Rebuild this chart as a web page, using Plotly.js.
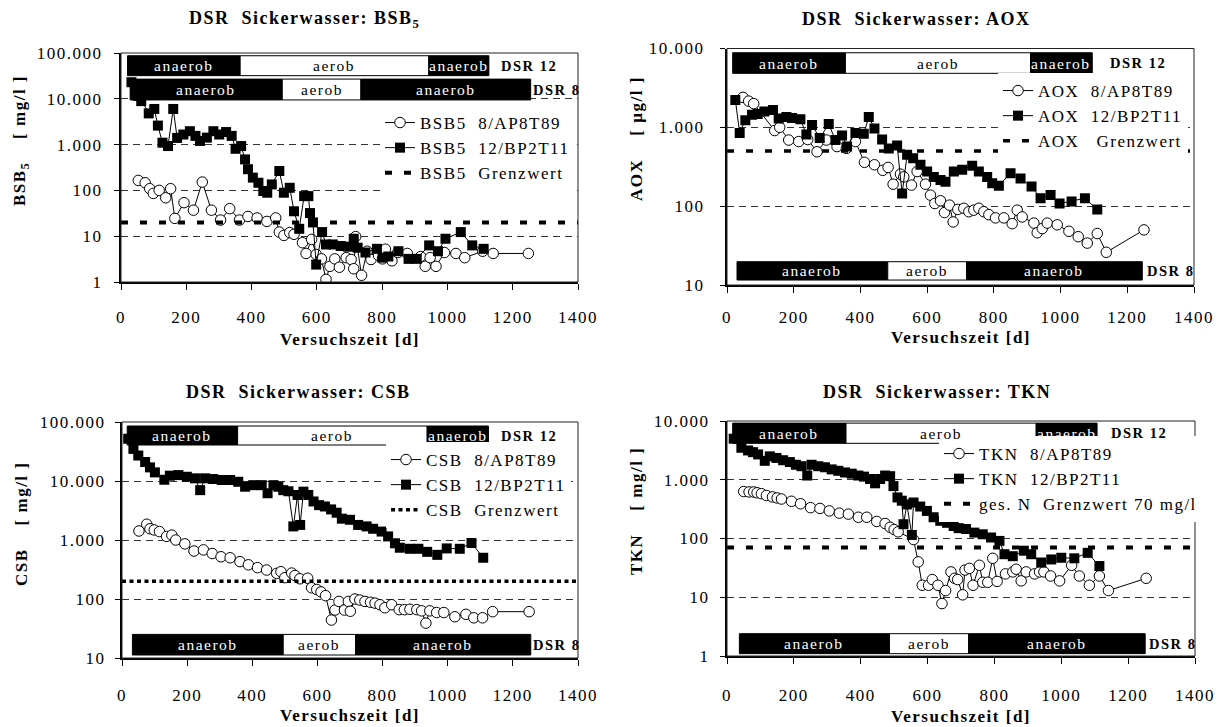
<!DOCTYPE html>
<html><head><meta charset="utf-8">
<script src="https://cdn.plot.ly/plotly-3.0.1.min.js"></script>
<style>
html,body{margin:0;padding:0;background:#fff;}
#chart{width:1223px;height:727px;}
svg text{letter-spacing:1.5px;}
</style></head><body><div id="chart"></div>
<script>
// ---------------- DATA ----------------
const xTickVals = [0, 200, 400, 600, 800, 1000, 1200, 1400];
const xTickText = ['0', '200', '400', '600', '800', '1000', '1200', '1400'];
const yTickVals = [1, 10, 100, 1000, 10000, 100000];
const yTickText = ['1', '10', '100', '1.000', '10.000', '100.000'];
const phaseNames = ['anaerob', 'aerob', 'anaerob'];

// BSB5 [mg/l]
const bsbDay8 = [53,74,88,99,117,137,152,165,193,222,249,277,305,333,363,389,417,447,474,485,499,517,530,556,567,584,598,614,628,640,655,669,690,705,713,719,737,754,766,789,801,810,830,848,877,918,932,947,965,991,1026,1053,1108,1140,1248];
const bsbVal8 = [165,147,109,86,100,69,109,24.5,54,37,152,37,22.5,40,22.5,27,25,21,25,12.3,10.4,12,11,7.2,4.2,8.5,4.0,3.2,1.14,2.2,3.2,2.1,3.4,3.1,1.95,9.8,1.4,4.7,3.1,3.8,3.2,5.2,2.9,4.4,4.2,3.6,2.2,3.4,2.2,4.4,4.2,3.4,4.7,4.2,4.2];
const bsbDay12 = [32,43,53,62,85,102,113,127,144,160,172,191,211,228,242,263,283,301,322,339,351,368,380,389,404,421,436,448,462,485,499,517,530,546,561,574,579,588,598,616,628,649,673,696,713,725,749,784,801,819,850,881,906,944,971,994,1041,1076,1111];
const bsbVal12 = [23000,16600,11500,8900,4800,6000,2600,1100,930,6000,1400,1660,1960,1550,1200,1420,1960,1660,1880,1550,810,930,475,290,190,147,97,89,135,265,89,114,35,14.5,75,75,32,20,2.4,12.3,6.6,6.6,6.1,5.9,8.8,5.6,4.4,5.3,3.4,3.6,4.7,3.2,3.2,6.3,4.7,8.8,12.3,6.3,5.3];
const bsbLimit = 20;
const bsbPhase12 = [20, 365, 943, 1127];
const bsbPhase8 = [28, 494, 735, 1255];

// AOX [µg/l]
const aoxDay8 = [48,65,80,143,158,185,215,242,270,298,330,358,385,412,442,467,483,498,520,530,553,570,595,610,623,640,652,667,678,692,710,725,740,755,770,785,805,830,855,870,885,920,930,945,960,990,1025,1053,1080,1110,1137,1250];
const aoxVal8 = [2400,2150,2000,910,1000,690,660,700,490,690,570,540,660,360,335,285,310,190,255,235,185,275,190,138,108,117,83,103,63,91,94,85,89,94,85,78,71,71,60,89,73,61,46,52,61,58,48,41,34,45,26,50];
const aoxDay12 = [25,38,55,75,92,112,138,155,178,195,220,238,255,278,305,325,345,360,385,410,425,442,465,485,510,525,540,558,580,600,620,640,655,680,705,735,755,780,795,815,850,880,913,940,970,997,1033,1073,1110];
const aoxVal12 = [2230,850,1230,1440,1480,1590,1660,1290,1350,1310,1270,810,1070,730,1100,690,790,570,850,830,1350,970,700,540,590,145,450,405,335,275,235,214,204,275,290,325,275,235,195,182,262,225,177,126,139,108,115,126,91];
const aoxLimit = 500;
const aoxPhase12 = [17, 355, 910, 1095];
const aoxPhase8 = [30, 482, 718, 1245];

// CSB [mg/l]
const csbDay8 = [52,76,86,99,115,137,153,165,193,221,250,277,304,332,362,388,416,444,475,488,500,521,531,546,570,582,598,611,625,643,654,666,683,695,701,715,730,746,763,777,792,807,828,851,867,884,905,920,933,945,966,988,1022,1056,1080,1107,1138,1250];
const csbVal8 = [1420,1850,1550,1480,1390,1150,1210,1000,860,650,680,590,520,500,430,380,340,310,272,290,230,275,250,220,225,155,145,132,114,44,65,91,65,91,62,100,96,91,88,85,80,71,80,66,66,67,66,63,39,63,59,59,50,55,48,48,61,61];
const csbDay12 = [19,35,50,71,86,101,130,147,173,199,224,240,255,280,306,332,357,378,403,429,447,465,480,495,511,526,539,547,557,572,588,605,623,642,659,675,700,725,751,771,797,817,838,853,884,910,937,968,997,1037,1073,1109];
const csbVal12 = [52000,35000,27000,21000,17000,14000,10500,12300,12600,11800,11100,7000,11100,10800,10400,10400,9700,8000,8500,8500,6200,8500,8000,7000,6700,1700,5800,1800,6600,5800,4500,3900,3700,3300,2900,2300,2200,1800,1700,1550,1390,1150,880,740,710,710,630,560,720,710,890,500];
const csbLimit = 200;
const csbPhase12 = [16, 355, 937, 1125];
const csbPhase8 = [32, 495, 717, 1255];

// TKN [mg/l]
const tknDay8 = [50,66,80,90,103,118,136,150,163,193,220,250,278,306,336,363,393,418,448,473,488,500,512,558,572,584,603,614,631,643,654,670,681,690,705,712,725,736,755,765,780,795,808,833,855,865,880,895,920,935,948,968,995,1031,1054,1084,1114,1141,1254];
const tknVal8 = [630,620,620,600,580,540,510,490,470,430,390,335,325,295,270,260,230,230,195,180,155,142,130,96,40,16,16,20,16,7.8,13,27,21,20,11,29,31,16,35,18,18,46,18.6,25,27,30,19,27,25,27,27,23,19,35,23,16,23,13,21];
const tknDay12 = [20,43,63,78,93,113,128,148,168,188,206,223,240,253,273,293,313,333,353,373,393,410,428,443,458,473,488,498,510,523,528,538,553,558,578,598,618,638,658,678,693,715,740,765,790,815,830,855,888,910,940,970,1000,1039,1079,1114];
const tknVal12 = [5000,3500,3150,2950,2700,2100,2500,2350,2150,2000,1800,1700,1180,1800,1700,1630,1500,1420,1330,1270,1180,1130,1030,870,1030,1180,1150,780,500,440,175,380,115,410,350,295,230,200,185,163,150,145,126,118,104,91,54,50,62,54,39,44,47,46,57,34];
const tknLimit = 70;
const tknPhase12 = [17, 356, 925, 1107];
const tknPhase8 = [37, 486, 723, 1251];

const xRange = [0, 1400];

// ---------------- LAYOUT HELPERS ----------------
const W = 1223, H = 727;
const FONT = 'Liberation Serif, Times New Roman, serif';
const px = v => v / W;
const py = v => 1 - v / H;

const traces = [];
const shapes = [];
const annotations = [];

function addPanel(cfg) {
  const xa = cfg.xa, ya = cfg.ya;
  traces.push({
    type: 'scatter', mode: 'lines+markers', x: cfg.d8, y: cfg.v8, name: cfg.n8,
    xaxis: xa, yaxis: ya, legend: cfg.leg,
    marker: {symbol: 'circle', size: 10.5, color: '#ffffff', line: {color: '#000', width: 1}},
    line: {color: '#000', width: 1}
  });
  traces.push({
    type: 'scatter', mode: 'lines+markers', x: cfg.d12, y: cfg.v12, name: cfg.n12,
    xaxis: xa, yaxis: ya, legend: cfg.leg,
    marker: {symbol: 'square', size: 10, color: '#000', line: {color: '#000', width: 0}},
    line: {color: '#000', width: 1}
  });
  traces.push({
    type: 'scatter', mode: 'lines', x: xRange, y: [cfg.lim, cfg.lim], name: cfg.nl,
    xaxis: xa, yaxis: ya, legend: cfg.leg,
    line: {color: '#000', width: cfg.limW, dash: cfg.limDash}
  });
  const yr = ya + ' domain';
  const xr = xa + ' domain';
  shapes.push({type: 'rect', xref: xr, yref: yr, x0: 0, x1: 1, y0: 0, y1: 1,
    line: {color: '#222', width: 1}, fillcolor: 'rgba(0,0,0,0)', layer: 'above'});
  function bar(bounds, y0, y1, tag, dx) {
    for (let i = 0; i < 3; i++) {
      const dark = phaseNames[i] === 'anaerob';
      shapes.push({type: 'rect', xref: xa, yref: yr, x0: bounds[i], x1: bounds[i + 1], y0: y0, y1: y1,
        fillcolor: dark ? '#000' : '#fff', line: {color: '#000', width: 1}, layer: 'above'});
      annotations.push({xref: xa, yref: yr, x: (bounds[i] + bounds[i + 1]) / 2, y: (y0 + y1) / 2,
        text: phaseNames[i], showarrow: false, xanchor: 'center', yanchor: 'middle',
        font: {family: FONT, size: 15.5, color: dark ? '#fff' : '#000'}});
    }
    annotations.push({xref: xa, yref: yr, x: bounds[3] + dx, y: (y0 + y1) / 2, text: '<b>' + tag + '</b>',
      showarrow: false, xanchor: 'left', yanchor: 'middle',
      font: {family: FONT, size: 14.5, color: '#000'}});
  }
  bar(cfg.p12, cfg.b12[0], cfg.b12[1], 'DSR 12', cfg.dx12);
  bar(cfg.p8, cfg.b8[0], cfg.b8[1], 'DSR 8', cfg.dx8);
}

const NB = '\u00a0';
addPanel({xa: 'x', ya: 'y', leg: 'legend', d8: bsbDay8, v8: bsbVal8, d12: bsbDay12, v12: bsbVal12, lim: bsbLimit,
  n8: 'BSB5' + NB + ' 8/AP8T89', n12: 'BSB5' + NB + ' 12/BP2T11', nl: 'BSB5' + NB + ' Grenzwert',
  limW: 4, limDash: '7px,12px',
  p12: bsbPhase12, p8: bsbPhase8, b12: [0.901, 0.988], b8: [0.795, 0.886], dx12: 31, dx8: 2});
addPanel({xa: 'x2', ya: 'y2', leg: 'legend2', d8: aoxDay8, v8: aoxVal8, d12: aoxDay12, v12: aoxVal12, lim: aoxLimit,
  n8: 'AOX' + NB + ' 8/AP8T89', n12: 'AOX' + NB + ' 12/BP2T11', nl: 'AOX' + NB + NB + ' Grenzwert',
  limW: 3.6, limDash: '7px,12px',
  p12: aoxPhase12, p8: aoxPhase8, b12: [0.895, 0.982], b8: [0.021, 0.0985], dx12: 46, dx8: 7});
addPanel({xa: 'x3', ya: 'y3', leg: 'legend3', d8: csbDay8, v8: csbVal8, d12: csbDay12, v12: csbVal12, lim: csbLimit,
  n8: 'CSB' + NB + ' 8/AP8T89', n12: 'CSB' + NB + ' 12/BP2T11', nl: 'CSB' + NB + ' Grenzwert',
  limW: 3.5, limDash: '4px,3.5px',
  p12: csbPhase12, p8: csbPhase8, b12: [0.9025, 0.983], b8: [0.0127, 0.100], dx12: 32, dx8: 1});
addPanel({xa: 'x4', ya: 'y4', leg: 'legend4', d8: tknDay8, v8: tknVal8, d12: tknDay12, v12: tknVal12, lim: tknLimit,
  n8: 'TKN' + NB + ' 8/AP8T89', n12: 'TKN' + NB + ' 12/BP2T11', nl: 'ges. N' + NB + ' Grenzwert 70 mg/l',
  limW: 4, limDash: '7px,12px',
  p12: tknPhase12, p8: tknPhase8, b12: [0.905, 0.991], b8: [0.01, 0.095], dx12: 37, dx8: 4});

function txt(t, x, y, size, angle) {
  annotations.push({xref: 'paper', yref: 'paper', x: px(x), y: py(y), text: '<b>' + t + '</b>', showarrow: false,
    xanchor: 'center', yanchor: 'middle', textangle: angle || 0,
    font: {family: FONT, size: size, color: '#000'}});
}
txt('DSR' + NB + ' Sickerwasser: BSB<sub>5</sub>', 304, 19, 18);
txt('DSR' + NB + ' Sickerwasser: AOX', 916, 19, 18);
txt('DSR' + NB + ' Sickerwasser: CSB', 298, 392, 18);
txt('DSR' + NB + ' Sickerwasser: TKN', 937, 392, 18);
txt('BSB<sub>5</sub>' + NB + NB + NB + ' [ mg/l ]', 21, 141, 17, -90);
txt('AOX' + NB + NB + NB + ' [ µg/l ]', 636, 138, 17, -90);
txt('CSB' + NB + NB + NB + ' [ mg/l ]', 21, 524, 17, -90);
txt('TKN' + NB + NB + NB + ' [ mg/l ]', 636, 511, 17, -90);
txt('Versuchszeit [d]', 350, 339, 17);
txt('Versuchszeit [d]', 961, 338, 17);
txt('Versuchszeit [d]', 350, 715, 17);
txt('Versuchszeit [d]', 961, 716, 17);

function xAxis(x0, x1, anchor, standoff) {
  return {domain: [px(x0), px(x1)], anchor: anchor, range: xRange, tickvals: xTickVals, ticktext: xTickText,
    ticks: 'outside', ticklen: 6, tickwidth: 1, tickcolor: '#000', showline: true, linewidth: 2, linecolor: '#000',
    showgrid: false, zeroline: false, ticklabelstandoff: standoff, fixedrange: true,
    tickfont: {family: FONT, size: 17, color: '#000'}};
}
function yAxis(top, bottom, anchor, range, standoff) {
  return {type: 'log', domain: [py(bottom), py(top)], anchor: anchor, range: range,
    tickvals: yTickVals, ticktext: yTickText, ticks: 'outside', ticklen: 5, tickwidth: 1, tickcolor: '#000',
    showline: true, linewidth: 2, linecolor: '#000', showgrid: true, gridcolor: '#333', gridwidth: 1,
    griddash: '7px,5px', zeroline: false, ticklabelstandoff: standoff, fixedrange: true,
    tickfont: {family: FONT, size: 17, color: '#000'}};
}
function legendAt(left, centerY) {
  return {x: px(left), y: py(centerY), xanchor: 'left', yanchor: 'middle', bgcolor: '#ffffff',
    borderwidth: 0, font: {family: FONT, size: 17, color: '#000'}, tracegroupgap: 0};
}

const layout = {
  width: W, height: H, margin: {l: 0, r: 0, t: 0, b: 0},
  paper_bgcolor: '#fff', plot_bgcolor: '#fff', showlegend: true,
  font: {family: FONT, color: '#000'},
  xaxis: xAxis(121, 578, 'y', 13),
  yaxis: yAxis(53, 282, 'x', [0, 5], 8),
  xaxis2: xAxis(727, 1194, 'y2', 10),
  yaxis2: yAxis(48.5, 285, 'x2', [1, 4], 12),
  xaxis3: xAxis(122, 578, 'y3', 15),
  yaxis3: yAxis(422, 658, 'x3', [1, 5], 6),
  xaxis4: xAxis(727, 1195, 'y4', 17),
  yaxis4: yAxis(421, 656, 'x4', [0, 4], 7),
  legend: legendAt(380, 148),
  legend2: legendAt(998, 116),
  legend3: legendAt(386, 485),
  legend4: legendAt(939, 479),
  shapes: shapes,
  annotations: annotations
};

Plotly.newPlot('chart', traces, layout, {displayModeBar: false, staticPlot: true});
</script></body></html>
